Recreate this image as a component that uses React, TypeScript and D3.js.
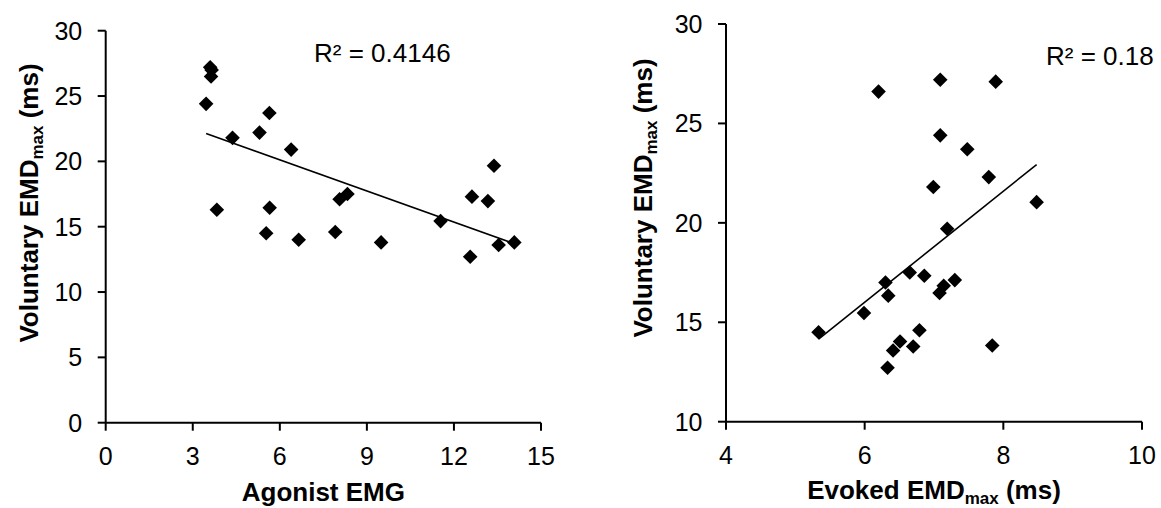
import React from "react";
import * as d3 from "d3";

// Left panel: Agonist EMG vs Voluntary EMDmax
const leftX = [3.60, 3.63, 3.65, 3.46, 4.37, 5.64, 5.30, 6.39, 3.83, 5.65, 5.53, 6.65, 7.91, 8.06, 8.33, 9.49, 11.54, 12.62, 13.17, 13.38, 13.54, 14.08, 12.56];
const leftY = [27.2, 26.5, 27.0, 24.4, 21.8, 23.7, 22.2, 20.9, 16.3, 16.45, 14.5, 14.0, 14.6, 17.1, 17.5, 13.8, 15.43, 17.3, 16.96, 19.66, 13.6, 13.8, 12.7];
const leftXTicks = [0, 3, 6, 9, 12, 15];
const leftYTicks = [0, 5, 10, 15, 20, 25, 30];
const leftR2 = "R² = 0.4146";

// Right panel: Evoked EMDmax vs Voluntary EMDmax
const rightX = [6.20, 7.09, 7.89, 7.09, 7.48, 7.79, 6.99, 8.48, 7.19, 5.335, 5.99, 6.30, 6.34, 6.65, 6.86, 7.08, 7.14, 7.30, 6.79, 6.51, 6.41, 6.70, 6.33, 7.84];
const rightY = [26.6, 27.2, 27.1, 24.4, 23.7, 22.3, 21.8, 21.04, 19.7, 14.5, 15.47, 17.0, 16.34, 17.5, 17.34, 16.47, 16.84, 17.12, 14.6, 14.03, 13.58, 13.78, 12.71, 13.83];
const rightXTicks = [4, 6, 8, 10];
const rightYTicks = [10, 15, 20, 25, 30];
const rightR2 = "R² = 0.18";

const FONT = "Liberation Sans, Arial, sans-serif";

function fit(xs: number[], ys: number[]) {
  const mx = d3.mean(xs)!;
  const my = d3.mean(ys)!;
  let sxy = 0, sxx = 0;
  xs.forEach((x, i) => { sxy += (x - mx) * (ys[i] - my); sxx += (x - mx) ** 2; });
  const b = sxy / sxx;
  return { b, a: my - b * mx };
}

function Diamond({ cx, cy }: { cx: number; cy: number }) {
  const r = 7.3;
  return <path d={`M${cx},${cy - r}L${cx + r},${cy}L${cx},${cy + r}L${cx - r},${cy}Z`} fill="#000" />;
}

function Panel(props: {
  xs: number[]; ys: number[]; xDom: [number, number]; yDom: [number, number];
  xRange: [number, number]; yRange: [number, number];
  xTicks: number[]; yTicks: number[]; r2: string; r2x: number; r2y: number;
  xTitle: React.ReactNode; yTitleX: number; yTitleY: number; xTitleY: number;
}) {
  const x = d3.scaleLinear().domain(props.xDom).range(props.xRange);
  const y = d3.scaleLinear().domain(props.yDom).range(props.yRange);
  const { a, b } = fit(props.xs, props.ys);
  const x0 = d3.min(props.xs)!, x1 = d3.max(props.xs)!;
  const line = d3.line<number>().x((d) => x(d)).y((d) => y(a + b * d));
  const ax = props.xRange[0];
  const ay = props.yRange[0];
  const xMid = (props.xRange[0] + props.xRange[1]) / 2;
  return (
    <g fontFamily={FONT}>
      {props.xs.map((d, i) => (
        <Diamond key={i} cx={x(d)} cy={y(props.ys[i])} />
      ))}
      <path d={line([x0, x1]) || ""} stroke="#000" strokeWidth={1.6} fill="none" />
      <line x1={ax} x2={ax} y1={props.yRange[1]} y2={ay} stroke="#000" strokeWidth={2} />
      <line x1={ax} x2={props.xRange[1]} y1={ay} y2={ay} stroke="#000" strokeWidth={2} />
      {props.yTicks.map((t) => (
        <g key={"y" + t}>
          <line x1={ax - 8} x2={ax} y1={y(t)} y2={y(t)} stroke="#000" strokeWidth={2} />
          <text x={ax - 23.5} y={y(t)} dy="0.36em" textAnchor="end" fontSize={25}>{t}</text>
        </g>
      ))}
      {props.xTicks.map((t) => (
        <g key={"x" + t}>
          <line x1={x(t)} x2={x(t)} y1={ay} y2={ay + 8} stroke="#000" strokeWidth={2} />
          <text x={x(t)} y={ay + 42} textAnchor="middle" fontSize={25}>{t}</text>
        </g>
      ))}
      <text x={props.r2x} y={props.r2y} fontSize={26}>{props.r2}</text>
      <text x={xMid} y={props.xTitleY} textAnchor="middle" fontSize={26} fontWeight="bold">{props.xTitle}</text>
      <text transform={`translate(${props.yTitleX},${props.yTitleY}) rotate(-90)`} textAnchor="middle" fontSize={26} fontWeight="bold">
        Voluntary EMD<tspan fontSize={17} dy="5">max</tspan><tspan dy="-5"> (ms)</tspan>
      </text>
    </g>
  );
}

export default function App() {
  return (
    <svg width={1161} height={508} style={{ position: "absolute", left: 0, top: 0, background: "#fff" }}>
      <rect width={1161} height={508} fill="#fff" />
      <Panel
        xs={leftX} ys={leftY} xDom={[0, 15]} yDom={[0, 30]}
        xRange={[105.7, 541]} yRange={[422.7, 30.7]}
        xTicks={leftXTicks} yTicks={leftYTicks}
        r2={leftR2} r2x={314} r2y={62}
        xTitle="Agonist EMG" yTitleX={38} yTitleY={203} xTitleY={501}
      />
      <Panel
        xs={rightX} ys={rightY} xDom={[4, 10]} yDom={[10, 30]}
        xRange={[726, 1142]} yRange={[421.7, 24]}
        xTicks={rightXTicks} yTicks={rightYTicks}
        r2={rightR2} r2x={1046} r2y={65}
        xTitle={<>Evoked EMD<tspan fontSize={17} dy="5">max</tspan><tspan dy="-5"> (ms)</tspan></>}
        yTitleX={652} yTitleY={198} xTitleY={499}
      />
    </svg>
  );
}
